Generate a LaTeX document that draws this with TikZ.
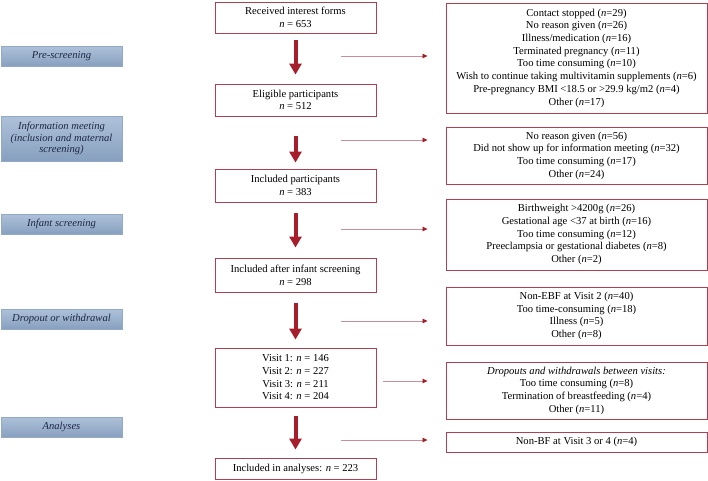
\documentclass[tikz,border=0pt]{standalone}
\usepackage{fontspec}
\setmainfont{Liberation Serif}
\usetikzlibrary{arrows.meta,calc}
\definecolor{boxred}{HTML}{B04050}
\definecolor{arrred}{HTML}{A61E2B}
\definecolor{thinred}{HTML}{C98F99}
\definecolor{bluetop}{HTML}{AEC1D9}
\definecolor{bluebot}{HTML}{87A0BF}
\definecolor{blueedge}{HTML}{93AAC6}
\definecolor{navy}{HTML}{1E2844}
\begin{document}
\begin{tikzpicture}[x=1pt,y=-1pt,
  every node/.style={font=\fontsize{10.6}{12.7}\selectfont, align=center, inner sep=0pt},
  flowbox/.style={draw=boxred, line width=0.9pt, fill=white, minimum width=161pt},
  reasonbox/.style={draw=boxred, line width=0.9pt, fill=white, minimum width=261pt},
  stagebox/.style={draw=blueedge, line width=0.5pt, top color=bluetop, bottom color=bluebot,
     minimum width=121pt, text=navy, font=\fontsize{10.6}{11.6}\selectfont\itshape},
  bigarrow/.style={draw=arrred, line width=4pt, -{Triangle[width=12pt,length=11pt]}},
  thinarrow/.style={draw=thinred, line width=0.8pt, -{Triangle[width=4.5pt,length=5pt,color=arrred]}}
]
\useasboundingbox (0,0) rectangle (708,480);

% stage labels
\node[stagebox, minimum height=20pt] (l1) at (61.5,56) {Pre-screening};
\node[stagebox, minimum height=45pt] (l2) at (61.5,138.5) {Information meeting\\(inclusion and maternal\\screening)};
\node[stagebox, minimum height=20pt] (l3) at (61.5,224) {Infant screening};
\node[stagebox, minimum height=20pt] (l4) at (61.5,319) {Dropout or withdrawal};
\node[stagebox, minimum height=20pt] (l5) at (61.5,427) {Analyses};

% flow boxes
\node[flowbox, minimum height=31pt] (b1) at (295.5,17.5) {Received interest forms\\\textit{n} = 653};
\node[flowbox, minimum height=32pt] (b2) at (295.5,100) {Eligible participants\\\textit{n} = 512};
\node[flowbox, minimum height=33pt] (b3) at (295.5,185.5) {Included participants\\\textit{n} = 383};
\node[flowbox, minimum height=34pt] (b4) at (295.5,275) {Included after infant screening\\\textit{n} = 298};
\node[flowbox, minimum height=59pt] (b5) at (295.5,377.5) {Visit 1: \textit{n} = 146\\Visit 2: \textit{n} = 227\\Visit 3: \textit{n} = 211\\Visit 4: \textit{n} = 204};
\node[flowbox, minimum height=21pt] (b6) at (295.5,468.5) {Included in analyses: \textit{n} = 223};

% reason boxes
\node[reasonbox, minimum height=110pt] (r1) at (576.5,58) {Contact stopped (\textit{n}=29)\\No reason given (\textit{n}=26)\\Illness/medication (\textit{n}=16)\\Terminated pregnancy (\textit{n}=11)\\Too time consuming (\textit{n}=10)\\Wish to continue taking multivitamin supplements (\textit{n}=6)\\Pre-pregnancy BMI <18.5 or >29.9 kg/m2 (\textit{n}=4)\\Other (\textit{n}=17)};
\node[reasonbox, minimum height=57pt] (r2) at (576.5,155.5) {No reason given (\textit{n}=56)\\Did not show up for information meeting (\textit{n}=32)\\Too time consuming (\textit{n}=17)\\Other (\textit{n}=24)};
\node[reasonbox, minimum height=71pt] (r3) at (576.5,234.5) {Birthweight >4200g (\textit{n}=26)\\Gestational age <37 at birth (\textit{n}=16)\\Too time consuming (\textit{n}=12)\\Preeclampsia or gestational diabetes (\textit{n}=8)\\Other (\textit{n}=2)};
\node[reasonbox, minimum height=58pt] (r4) at (576.5,316) {Non-EBF at Visit 2 (\textit{n}=40)\\Too time-consuming (\textit{n}=18)\\Illness (\textit{n}=5)\\Other (\textit{n}=8)};
\node[reasonbox, minimum height=57pt] (r5) at (576.5,390.5) {\textit{Dropouts and withdrawals between visits:}\\Too time consuming (\textit{n}=8)\\Termination of breastfeeding (\textit{n}=4)\\Other (\textit{n}=11)};
\node[reasonbox, minimum height=20pt] (r6) at (576.5,442) {Non-BF at Visit 3 or 4 (\textit{n}=4)};

% big arrows
\draw[bigarrow, shorten <=7pt, shorten >=9pt] (b1.south) -- (b2.north);
\draw[bigarrow, shorten <=20pt, shorten >=6pt] (b2.south) -- (b3.north);
\draw[bigarrow, shorten <=11pt, shorten >=10pt] (b3.south) -- (b4.north);
\draw[bigarrow, shorten <=11pt, shorten >=8pt] (b4.south) -- (b5.north);
\draw[bigarrow, shorten <=9pt, shorten >=8pt] (b5.south) -- (b6.north);

% thin arrows
\coordinate (s1) at (341,56);
\coordinate (s2) at (341,140);
\coordinate (s3) at (341,229);
\coordinate (s4) at (341,321);
\coordinate (s6) at (341,440);
\draw[thinarrow, shorten >=18pt] (s1) -- (r1.west |- s1);
\draw[thinarrow, shorten >=18pt] (s2) -- (r2.west |- s2);
\draw[thinarrow, shorten >=18pt] (s3) -- (r3.west |- s3);
\draw[thinarrow, shorten >=18pt] (s4) -- (r4.west |- s4);
\draw[thinarrow, shorten <=7pt, shorten >=18pt] (b5.east |- 0,381) -- (r5.west |- 0,381);
\draw[thinarrow, shorten >=18pt] (s6) -- (r6.west |- s6);
\end{tikzpicture}
\end{document}
